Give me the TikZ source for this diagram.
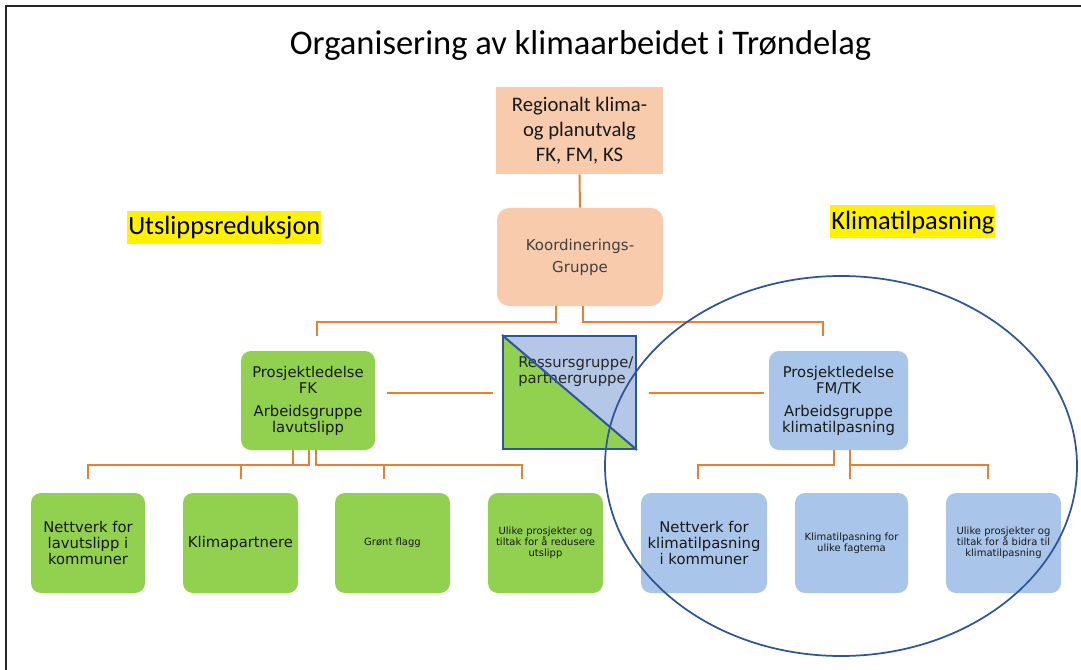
\documentclass[tikz,border=0pt]{standalone}
\usepackage{fontspec}
\setmainfont{Carlito}
\newfontfamily\boxfont{DejaVu Sans}
\usetikzlibrary{calc}

\definecolor{peach}{HTML}{F8CBAD}
\definecolor{leafgreen}{HTML}{92D050}
\definecolor{paleblue}{HTML}{A9C6EA}
\definecolor{resblue}{HTML}{B4C7E7}
\definecolor{linkorange}{HTML}{ED7D31}
\definecolor{navy}{HTML}{2F5597}
\definecolor{inkgray}{HTML}{404040}

\tikzset{
  conn/.style={draw=linkorange, line width=1.5pt},
  card/.style={rounded corners=7.5pt, inner sep=0pt, align=center, text=black!90},
  greencard/.style={card, fill=leafgreen},
  bluecard/.style={card, fill=paleblue},
  bigtxt/.style={font=\boxfont\fontsize{11.1}{12}\selectfont},
  smalltxt/.style={font=\boxfont\fontsize{7.5}{8.25}\selectfont},
  leafcard/.style={minimum height=75pt},
  tag/.style={fill=yellow, inner xsep=0.75pt, inner ysep=0pt, anchor=base west,
              font=\fontsize{19.8}{24}\selectfont},
}

\begin{document}
\begin{tikzpicture}[x=0.75pt, y=-0.75pt]
\useasboundingbox (0,0) rectangle (1081,670);
\fill[white] (0,0) rectangle (1081,670);

% slide frame
\draw[line width=2pt, black!85] (6,670) -- (6,6) -- (1081,6);

% heading
\node[font=\fontsize{25.9}{30}\selectfont, anchor=base, inner sep=0pt] (title) at (580.5,55)
  {Organisering av klimaarbeidet i Trøndelag};

% side labels
\node[tag, text height=18pt, text depth=6.75pt] (lowtag) at (127,235) {Utslippsreduksjon};
\node[tag, text height=18.75pt, text depth=6pt] (adapttag) at (830,230) {Klimatilpasning};

% top of the hierarchy
\node[fill=peach, inner sep=0pt, align=center, minimum width=125.25pt, minimum height=65.25pt,
      font=\fontsize{15.5}{18.75}\selectfont, text=black!90] (reg) at (579.5,130.5)
  {Regionalt klima-\\og planutvalg\\FK, FM, KS};

\node[fill=peach, rounded corners=9pt, inner sep=0pt, align=center, minimum width=124.5pt,
      minimum height=73.5pt, font=\boxfont\fontsize{11.25}{16.5}\selectfont, text=inkgray]
  (koord) at (580,257) {Koordinerings-\\Gruppe};

% project management
\node[greencard, bigtxt, minimum width=100.5pt, minimum height=74.25pt] (plfk) at (308,400.5)
  {Prosjektledelse\\FK\\[5.25pt]Arbeidsgruppe\\lavutslipp};
\node[bluecard, bigtxt, minimum width=104.25pt, minimum height=74.25pt] (plfm) at (838.5,400.5)
  {Prosjektledelse\\FM/TK\\[5.25pt]Arbeidsgruppe\\klimatilpasning};

% shared resource group, split diagonally
\node[draw=navy, line width=1.5pt, inner sep=0pt, minimum width=99.75pt, minimum height=84.75pt,
      path picture={
        \fill[resblue] (path picture bounding box.north west) -- (path picture bounding box.north east)
          -- (path picture bounding box.south east) -- cycle;
        \fill[leafgreen] (path picture bounding box.north west) -- (path picture bounding box.south west)
          -- (path picture bounding box.south east) -- cycle;
      }] (res) at (569.5,392.5) {};
\node[bigtxt, align=left, anchor=base west, inner sep=0pt, text=black!85] (restext) at (518,383)
  {Ressursgruppe/\\partnergruppe};
\draw[navy, line width=1.5pt] (res.north west) -- (res.south east);

% low-emission groups
\node[greencard, bigtxt, leafcard, minimum width=85.5pt] (b1) at (88,543)
  {Nettverk for\\lavutslipp i\\kommuner};
\node[greencard, bigtxt, leafcard, minimum width=86.25pt] (b2) at (240.5,543) {Klimapartnere};
\node[greencard, smalltxt, leafcard, minimum width=86.25pt] (b3) at (392.5,543) {Grønt flagg};
\node[greencard, smalltxt, leafcard, minimum width=86.25pt] (b4) at (545.5,543)
  {Ulike prosjekter og\\tiltak for å redusere\\utslipp};

% adaptation groups
\node[bluecard, bigtxt, leafcard, minimum width=94.5pt] (b5) at (704,543)
  {Nettverk for\\klimatilpasning\\i kommuner};
\node[bluecard, smalltxt, leafcard, minimum width=84.75pt] (b6) at (851.5,543)
  {Klimatilpasning for\\ulike fagtema};
\node[bluecard, smalltxt, leafcard, minimum width=86.25pt] (b7) at (1003.5,543)
  {Ulike prosjekter og\\tiltak for å bidra til\\klimatilpasning};

% connectors from the top
\draw[conn] (reg) -- (koord);
\coordinate (kl) at (556,0);
\coordinate (kr) at (583,0);
\coordinate (tfk) at (317,336);
\coordinate (tfm) at (823,336);
\draw[conn] (koord.south -| kl) -- ++(0,16) -| (tfk);
\draw[conn] (koord.south -| kr) -- ++(0,16) -| (tfm);

% links to the resource group
\draw[conn] ($(res.west)+(-9,0)$) -- ($(res.west)+(-115,0)$);
\draw[conn] ($(res.east)+(12,0)$) -- ($(res.east)+(127,0)$);

% low-emission branch
\coordinate (a1) at (293,465);
\coordinate (a2) at (309,465);
\coordinate (a3) at (316,465);
\draw[conn] (plfk.south -| a1) -- (a1) -| ($(b1.north)+(0,-14)$);
\draw[conn] (plfk.south -| a2) -- (a2) -- (a1);
\draw[conn] (a2 -| b2.north) -- ($(b2.north)+(0,-14)$);
\draw[conn] (plfk.south -| a3) -- (a3) -| ($(b4.north)+(-23.5,-14)$);
\draw[conn] ($(b3.north)+(-8.5,-14)$) -- ++(0,-14);

% adaptation branch
\coordinate (c1) at (834,465);
\coordinate (c2) at (850,465);
\draw[conn] (plfm.south -| c1) -- (c1) -| ($(b5.north)+(-6,-14)$);
\draw[conn] (plfm.south -| c2) -- ($(c2)+(0,14)$);
\draw[conn] (c2) -| ($(b7.north)+(-15.5,-14)$);

% adaptation circle around the right-hand branch
\draw[navy, line width=1.3pt] (841,466) ellipse [x radius=177pt, y radius=142.5pt];
\end{tikzpicture}
\end{document}
